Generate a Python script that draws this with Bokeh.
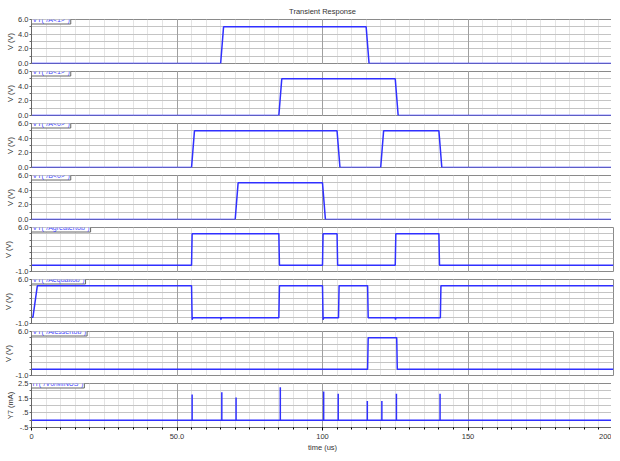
from bokeh.plotting import figure
from bokeh.layouts import column
from bokeh.models import FixedTicker, SingleIntervalTicker, Grid, Label, Range1d
from bokeh.embed import file_html
from bokeh.resources import INLINE

# ---------------- data ----------------
title_text = "Transient Response"
x_label = "time (us)"
x_tick_vals = [0, 50, 100, 150, 200]
x_tick_labels = ["0", "50.0", "100", "150", "200"]

t_a1 = [0, 65, 66, 115, 116, 200]
v_a1 = [0, 0, 5, 5, 0, 0]

t_b1 = [0, 85, 86, 125, 126, 200]
v_b1 = [0, 0, 5, 5, 0, 0]

t_a0 = [0, 55, 56, 105, 106, 120, 121, 140, 141, 200]
v_a0 = [0, 0, 5, 5, 0, 0, 5, 5, 0, 0]

t_b0 = [0, 70, 71, 100, 101, 200]
v_b0 = [0, 0, 5, 5, 0, 0]

t_gt = [0, 55, 55.2, 85, 85.2, 100, 100.2, 105, 105.2, 125, 125.2, 140, 140.2, 200]
v_gt = [0, 0, 5, 5, 0, 0, 5, 5, 0, 0, 5, 5, 0, 0]

t_eq = [0, 0.5, 2, 55, 55.2, 55.4, 65, 65.1, 65.2, 85, 85.2, 100, 100.2, 100.4,
        105.5, 105.7, 115.5, 115.7, 125, 125.1, 125.2, 140.5, 140.7, 200]
v_eq = [0, 0, 5, 5, -0.4, -0.1, -0.1, -0.4, -0.1, -0.1, 5, 5, -0.4, -0.1,
        -0.1, 5, 5, -0.1, -0.1, -0.4, -0.1, -0.1, 5, 5]

t_lt = [0, 115.5, 115.7, 125.5, 125.7, 200]
v_lt = [0, 0, 5, 5, 0, 0]

spike_t = [55.2, 65.4, 70.3, 85.5, 100.4, 105.4, 115.4, 120.4, 125.4, 140.4]
spike_h = [1.75, 1.9, 1.55, 2.25, 1.95, 1.8, 1.3, 1.3, 1.8, 1.8]
i_base_t = [0, 200]
i_base_v = [0, 0]

labels = ['VT("/A<1>")', 'VT("/B<1>")', 'VT("/A<0>")', 'VT("/B<0>")',
          'VT("/Agreatertob")', 'VT("/Aequaltob")', 'VT("/Alessertob")',
          'IT("/V0/MINUS")']

yt_a = [0, 2, 4, 6]
yt_a_lab = ["0.0", "2.0", "4.0", "6.0"]
yt_b = [-1, 6]
yt_b_lab = ["-1.0", "6.0"]
yt_c = [-0.5, 0.5, 1.5, 2.5]
yt_c_lab = ["-.5", ".5", "1.5", "2.5"]

# ---------------- style ----------------
BLUE = "#3030ff"
LBLUE = "#4646ff"
FONT = "Liberation Sans"
FW, FH = 582, 44
xr = Range1d(0, 200)


def panel(ymin, ymax, ticks, tlabels, minor, gstep, label, ylab, first=False, last=False):
    p = figure(output_backend="svg", toolbar_location=None,
               frame_width=FW, frame_height=FH, x_range=xr,
               y_range=Range1d(ymin, ymax),
               x_axis_location="below" if last else None,
               min_border_left=18, min_border_right=1,
               min_border_top=4, min_border_bottom=4)
    p.background_fill_color = "white"
    p.border_fill_color = "white"
    p.outline_line_color = "#8a8a8a"
    p.xgrid.ticker = SingleIntervalTicker(interval=5)
    p.xgrid.grid_line_color = "#e4e4e4"
    p.add_layout(Grid(dimension=0, ticker=FixedTicker(ticks=[50, 100, 150]),
                      grid_line_color="#a0a0a0"), "center")
    gt = []
    v = ymin
    while v <= ymax + 1e-9:
        gt.append(round(v, 3))
        v += gstep
    p.ygrid.ticker = FixedTicker(ticks=gt)
    p.ygrid.grid_line_color = "#c4c4c4"
    ya = p.yaxis[0]
    ya.ticker = FixedTicker(ticks=ticks, minor_ticks=minor)
    ya.major_label_overrides = {t: l for t, l in zip(ticks, tlabels)}
    ya.major_label_text_font_size = "7.5px"
    ya.major_label_text_font = FONT
    ya.major_label_text_color = "#333333"
    ya.major_label_standoff = 1
    ya.major_tick_out = 2
    ya.major_tick_in = 0
    ya.minor_tick_out = 2
    ya.minor_tick_in = 0
    ya.axis_line_color = "#666666"
    ya.major_tick_line_color = "#666666"
    ya.minor_tick_line_color = "#666666"
    ya.axis_label = ylab
    ya.axis_label_text_font_size = "7.5px"
    ya.axis_label_text_font = FONT
    ya.axis_label_text_font_style = "normal"
    ya.axis_label_text_color = "#333333"
    ya.axis_label_standoff = 0
    if last:
        xa = p.xaxis[0]
        xa.ticker = SingleIntervalTicker(interval=50, num_minor_ticks=10)
        xa.major_label_overrides = {t: l for t, l in zip(x_tick_vals, x_tick_labels)}
        xa.major_label_text_font_size = "7.5px"
        xa.major_label_text_font = FONT
        xa.major_label_text_color = "#333333"
        xa.major_label_standoff = 3
        xa.major_tick_out = 3
        xa.major_tick_in = 0
        xa.minor_tick_out = 2
        xa.minor_tick_in = 0
        xa.axis_line_color = "#666666"
        xa.axis_label = x_label
        xa.axis_label_text_font_size = "7.5px"
        xa.axis_label_text_font = FONT
        xa.axis_label_text_font_style = "normal"
        xa.axis_label_text_color = "#333333"
        xa.axis_label_standoff = 1
    if first:
        p.title.text = title_text
        p.title.align = "center"
        p.title.text_font_size = "7.5px"
        p.title.text_font = FONT
        p.title.text_font_style = "normal"
        p.title.text_color = "#333333"
        p.title.standoff = 8
    lab = Label(x=0, y=ymax, x_units="data", y_units="data", text=label,
                text_font_size="7px", text_font=FONT, text_color=LBLUE,
                text_baseline="middle",
                border_line_color="#666666", background_fill_color="white",
                padding=1)
    p.add_layout(lab)
    return p


panels = []
series = [(t_a1, v_a1), (t_b1, v_b1), (t_a0, v_a0), (t_b0, v_b0)]
for i, (t, v) in enumerate(series):
    p = panel(0, 6, yt_a, yt_a_lab, [1, 3, 5], 1, labels[i], "V (V)", first=(i == 0))
    p.line(t, v, color=BLUE, line_width=1.5)
    panels.append(p)

for j, (t, v) in enumerate([(t_gt, v_gt), (t_eq, v_eq), (t_lt, v_lt)]):
    p = panel(-1, 6, yt_b, yt_b_lab, [0, 1, 2, 3, 4, 5], 1, labels[4 + j], "V (V)")
    p.line(t, v, color=BLUE, line_width=1.5)
    panels.append(p)

p = panel(-0.5, 2.5, yt_c, yt_c_lab, [0, 1, 2], 0.5, labels[7], "Y7 (mA)", last=True)
p.line(i_base_t, i_base_v, color=BLUE, line_width=1.5)
p.segment(x0=spike_t, y0=[0] * len(spike_t), x1=spike_t, y1=spike_h,
          color=BLUE, line_width=1.5)
panels.append(p)

layout = column(*panels, spacing=0)
open("out.html", "w").write(file_html(layout, INLINE))
